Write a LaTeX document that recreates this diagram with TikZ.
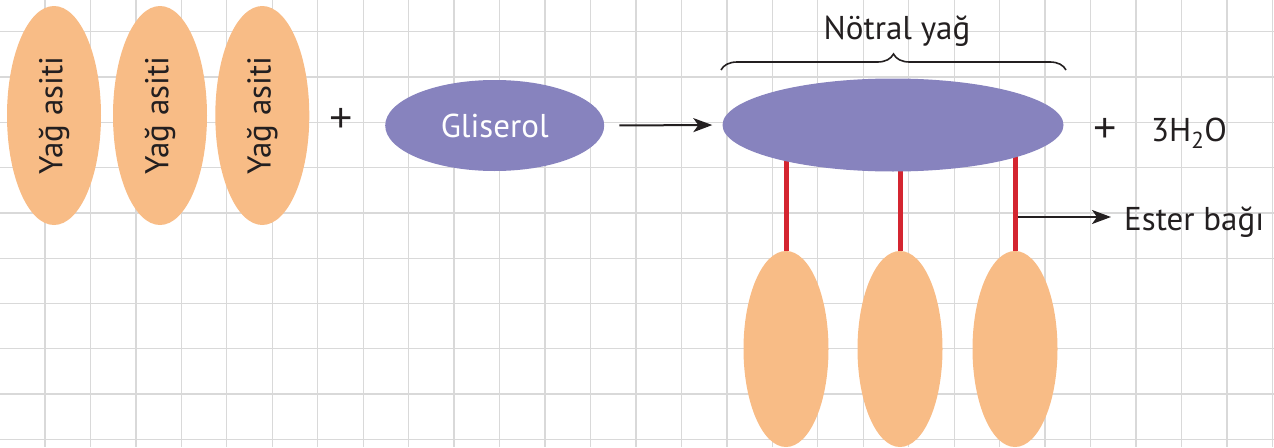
\documentclass[tikz,border=0pt]{standalone}
\usepackage{fontspec}
\setmainfont{PT Sans}
\newfontfamily\plusfam{Liberation Sans}
\usetikzlibrary{shapes.geometric,arrows.meta,decorations.pathreplacing}
\definecolor{gridc}{HTML}{D9D9D9}
\definecolor{orangec}{HTML}{F8BC86}
\definecolor{purplec}{HTML}{8783BE}
\definecolor{redc}{HTML}{D42530}
\definecolor{inkc}{HTML}{231F20}
\pgfdeclarelayer{gridlayer}
\pgfdeclarelayer{sticklayer}
\pgfsetlayers{gridlayer,sticklayer,main}
\newcommand\lblfont{\fontsize{33}{38}\selectfont}
\newcommand\plusfont{\plusfam\fontsize{40}{44}\selectfont}
\begin{document}
\begin{tikzpicture}[x=1pt,y=-1pt,
  gridline/.style={draw=gridc, line width=1.3pt},
  acid/.style={ellipse, fill=orangec, inner sep=0pt, minimum width=94pt, minimum height=219pt, text=inkc, font=\lblfont},
  tail/.style={ellipse, fill=orangec, inner sep=0pt, minimum width=85pt, minimum height=196pt},
  glyc/.style={ellipse, fill=purplec, inner sep=0pt, minimum width=219pt, minimum height=91pt, text=white, font=\lblfont},
  fat/.style={ellipse, fill=purplec, inner sep=0pt, minimum width=341pt, minimum height=93pt},
  lbl/.style={inner sep=0pt, text=inkc, font=\lblfont},
  plus/.style={inner sep=0pt, text=inkc, font=\plusfont},
  arr/.style={draw=inkc, line width=2pt, -{Stealth[length=19pt, width=14pt, inset=5pt]}},
  bond/.style={draw=redc, line width=5pt},
  bracestyle/.style={draw=inkc, line width=1.6pt, decorate, decoration={brace, amplitude=16pt, aspect=0.5}}
]
\useasboundingbox (0,0) rectangle (1274,447);
\begin{pgfonlayer}{gridlayer}
  \foreach \k in {0,...,28} \draw[gridline] ({45.46*\k-0.46},0) -- ++(0,447);
  \foreach \j in {0,...,9} \draw[gridline] (0,{31.7+45.3*\j}) -- ++(1274,0);
\end{pgfonlayer}

% fatty acids
\node[acid] (a1) at (54,115.5) {\rotatebox{90}{Yağ asiti}};
\node[acid] (a2) at (160,115.5) {\rotatebox{90}{Yağ asiti}};
\node[acid] (a3) at (262.3,115.5) {\rotatebox{90}{Yağ asiti}};
\node[plus] (p1) at (341,119.5) {+};

% glycerol
\node[glyc] (gl) at (494.7,125.5) {Gliserol};

% neutral fat
\node[fat] (fat) at (893,125) {};
\coordinate (bl) at (721,70);
\coordinate (br) at (1066,70);
\draw[bracestyle] (bl) -- (br);
\node[lbl] (nt) at (897,31) {Nötral yağ};

\draw[arr, shorten <=15pt, shorten >=10pt] (gl.east) -- (fat.west);

\node[plus] (p2) at (1105,129.5) {+};
\node[lbl, anchor=base west] (water) at (1151,141) {3H\textsubscript{2}O};

% tails
\node[tail] (t1) at (786,349) {};
\node[tail] (t2) at (900,349) {};
\node[tail] (t3) at (1015,349) {};
\begin{pgfonlayer}{sticklayer}
  \draw[bond] (t1.north) -- (t1.north |- fat.center);
  \draw[bond] (t2.north) -- (t2.north |- fat.center);
  \draw[bond] (t3.north) -- (t3.north |- fat.center);
\end{pgfonlayer}

% ester bond
\node[lbl, anchor=base west] (ester) at (1124,230) {Ester bağı};
\coordinate (ebstart) at (1017.5,217);
\draw[arr, shorten >=13pt] (ebstart) -- (ebstart -| ester.west);
\end{tikzpicture}
\end{document}
